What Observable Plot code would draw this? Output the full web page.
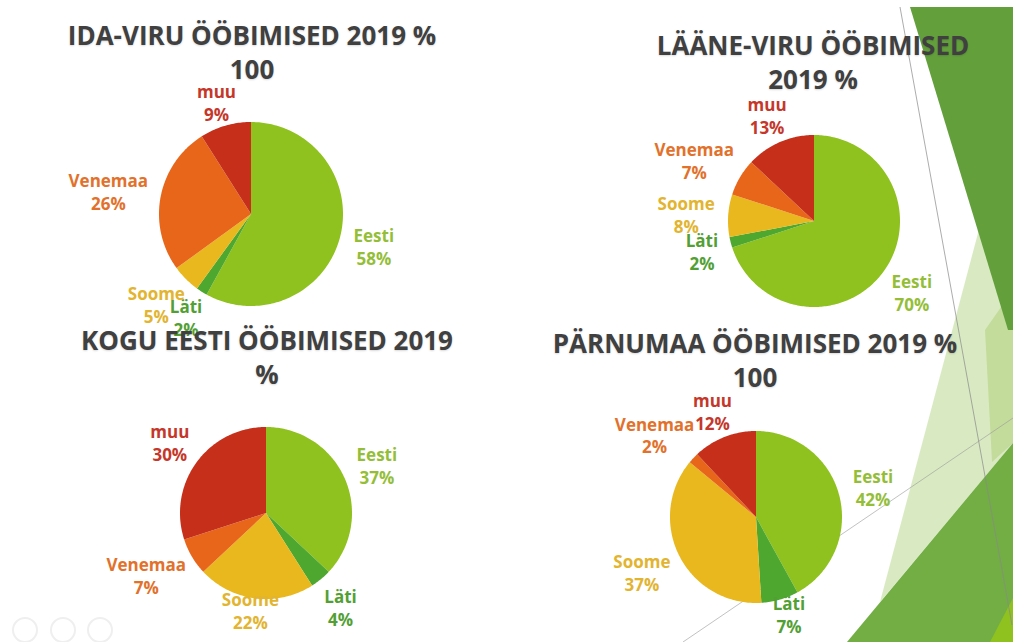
<!DOCTYPE html>
<html>
<head>
<meta charset="utf-8">
<script src="https://cdn.jsdelivr.net/npm/d3@7"></script>
<script src="https://cdn.jsdelivr.net/npm/@observablehq/plot@0.6"></script>
<style>
  html, body { margin: 0; padding: 0; background: #fff; }
  #slide { position: relative; width: 1013px; height: 642px; overflow: hidden; background: #fff; font-family: "Open Sans", sans-serif; }
  .deco { position: absolute; left: 0; top: 0; }
  .title { position: absolute; text-align: center; font-weight: 700; font-size: 26px; line-height: 34px; color: #404040; white-space: nowrap; transform: translateX(-50%); text-shadow: 0 1px 2px rgba(0,0,0,0.15); }
  .pie { position: absolute; }
</style>
</head>
<body>
<div id="slide"></div>
<script>
// ---- data ----
const categories = ["Eesti", "Läti", "Soome", "Venemaa", "muu"];
const idaViru   = [58, 2, 5, 26, 9];
const laaneViru = [70, 2, 8, 7, 13];
const koguEesti = [37, 4, 22, 7, 30];
const parnumaa  = [42, 7, 37, 2, 12];
const titleIdaViru   = ["IDA-VIRU ÖÖBIMISED 2019 %", "100"];
const titleLaaneViru = ["LÄÄNE-VIRU ÖÖBIMISED", "2019 %"];
const titleKogu      = ["KOGU EESTI ÖÖBIMISED 2019", "%"];
const titleParnumaa  = ["PÄRNUMAA ÖÖBIMISED 2019 %", "100"];

// ---- styles ----
const sliceColors = ["#8fc21f", "#4ea72e", "#e8b81e", "#e8661a", "#c6301b"];
const labelColors = ["#94be38", "#52a034", "#e2b430", "#e2712c", "#c5372a"];

const slide = document.getElementById("slide");

// ---- decorative background (slide theme) ----
const deco = d3.create("svg").attr("class", "deco").attr("width", 1013).attr("height", 642);
const polys = [
  {pts: [[990,188],[1013,188],[1013,443],[880,602]], fill: "#d9eac2"},
  {pts: [[985,330],[1013,290],[1013,443],[992,462]], fill: "#c3dc9c"},
  {pts: [[910,7],[1013,7],[1013,330],[1008,330]], fill: "#63a03c"},
  {pts: [[1013,443],[1013,642],[847,642]], fill: "#72ae44"},
  {pts: [[1013,598],[1013,642],[990,642]], fill: "#8fc21f"}
];
deco.selectAll("polygon").data(polys).join("polygon")
  .attr("points", d => d.pts.map(p => p.join(",")).join(" "))
  .attr("fill", d => d.fill);
deco.append("line").attr("x1", 900).attr("y1", 7).attr("x2", 1012).attr("y2", 625)
  .attr("stroke", "#8a8a8a").attr("stroke-width", 1).attr("opacity", 0.7);
deco.append("line").attr("x1", 683).attr("y1", 642).attr("x2", 1013).attr("y2", 418)
  .attr("stroke", "#9a9a9a").attr("stroke-width", 1).attr("opacity", 0.6);
deco.selectAll("circle").data([25, 63, 100]).join("circle")
  .attr("cx", d => d).attr("cy", 630).attr("r", 12)
  .attr("fill", "none").attr("stroke", "#efefef").attr("stroke-width", 2);
slide.appendChild(deco.node());

// ---- text measurement ----
const ctx = document.createElement("canvas").getContext("2d");
const labelFont = 17;
ctx.font = `700 ${labelFont}px "Open Sans"`;
const measure = s => ctx.measureText(s).width;

// ---- charts ----
const charts = [
  {title: titleIdaViru,   values: idaViru,   cx: 251, cy: 214, r: 92, tx: 252, base: 45},
  {title: titleLaaneViru, values: laaneViru, cx: 814, cy: 221, r: 86, tx: 813, base: 55},
  {title: titleKogu,      values: koguEesti, cx: 266, cy: 513, r: 86, tx: 267, base: 350},
  {title: titleParnumaa,  values: parnumaa,  cx: 756, cy: 517, r: 86, tx: 755, base: 353}
];

const W = 460, H = 330;
const pieGen = d3.pie().sort(null).value(d => d.value);

for (const c of charts) {
  const rows = categories.map((cat, i) => ({cat, value: c.values[i], fill: sliceColors[i], lab: labelColors[i]}));
  const arcs = pieGen(rows);

  // slice outlines from pie angles (unit radius, y up)
  const pts = [];
  for (const a of arcs) {
    const n = Math.max(2, Math.ceil((a.endAngle - a.startAngle) / (Math.PI / 180)) + 1);
    for (let k = 0; k < n; k++) {
      const t = a.startAngle + (a.endAngle - a.startAngle) * k / (n - 1);
      pts.push({cat: a.data.cat, fill: a.data.fill, x: Math.sin(t), y: Math.cos(t), x0: 0, y0: 0});
    }
  }

  // labels placed outside the slice middle, kept inside the chart area vertically
  const gap = 14, hh = 21;
  const labels = arcs.map(a => {
    const m = (a.startAngle + a.endAngle) / 2;
    const ux = Math.sin(m), uy = Math.cos(m);
    const pct = a.data.value + "%";
    const hw = Math.max(measure(a.data.cat), measure(pct)) / 2;
    const px = (c.r + gap) * ux + hw * ux;
    let py = (c.r + gap) * uy + hh * uy;
    py = Math.max(-(c.r + 11), Math.min(c.r + 20, py));
    return {text: a.data.cat + "\n" + pct, x: px / c.r, y: py / c.r, color: a.data.lab};
  });

  const chart = Plot.plot({
    width: W, height: H, margin: 0,
    x: {domain: [-W / 2 / c.r, W / 2 / c.r], axis: null},
    y: {domain: [-H / 2 / c.r, H / 2 / c.r], axis: null},
    color: {type: "identity"},
    style: {background: "transparent", overflow: "visible", fontFamily: "Open Sans, sans-serif"},
    marks: [
      Plot.area(pts, {x1: "x", y1: "y", x2: "x0", y2: "y0", z: "cat", fill: "fill", curve: "linear"}),
      Plot.text(labels, {x: "x", y: "y", text: "text", fill: "color", fontSize: labelFont, fontWeight: 700, lineHeight: 1.35, textAnchor: "middle"})
    ]
  });
  chart.classList.add("pie");
  chart.style.left = (c.cx - W / 2) + "px";
  chart.style.top = (c.cy - H / 2) + "px";
  slide.appendChild(chart);

  const t = document.createElement("div");
  t.className = "title";
  t.innerHTML = c.title.join("<br>");
  t.style.left = c.tx + "px";
  t.style.top = (c.base - 27) + "px";
  slide.appendChild(t);
}
</script>
</body>
</html>
